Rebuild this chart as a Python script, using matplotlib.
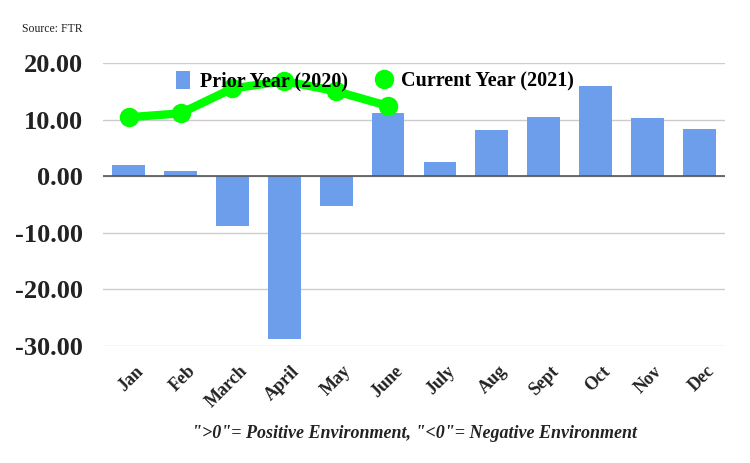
import matplotlib
matplotlib.use("Agg")
import matplotlib.pyplot as plt
import numpy as np

months = ["Jan", "Feb", "March", "April", "May", "June", "July", "Aug", "Sept", "Oct", "Nov", "Dec"]
prior_year = [1.9, 0.9, -8.8, -28.7, -5.2, 11.2, 2.5, 8.1, 10.5, 16.0, 10.3, 8.4]
current_year = [10.4, 11.1, 15.5, 16.8, 15.0, 12.4]

plt.rcParams['font.family'] = ['Liberation Serif', 'DejaVu Serif']

fig = plt.figure(figsize=(7.5, 4.63), dpi=100)
ax = fig.add_axes([0.137, 0.253, 0.83, 0.611])

x = np.arange(len(months))
bars = ax.bar(x, prior_year, width=0.63, color='#6d9eeb', label='Prior Year (2020)', zorder=2)
line, = ax.plot(x[:len(current_year)], current_year, color='#00ff00', lw=6, marker='o',
                markersize=13, label='Current Year (2021)', zorder=3)

ax.set_xlim(-0.5, len(months) - 0.5)
ax.set_ylim(-30, 20)
ax.set_yticks([-30, -20, -10, 0, 10, 20])
ax.set_yticklabels([f"{v:.2f}" for v in [-30, -20, -10, 0, 10, 20]],
                   fontsize=19, fontweight='bold', color='#222222')
ax.set_xticks(x + 0.12)
ax.set_xticklabels(months, rotation=45, ha='right', rotation_mode='anchor',
                   fontsize=13, fontweight='bold', color='#222222')
ax.tick_params(axis='both', length=0)
ax.tick_params(axis='x', pad=12)
ax.tick_params(axis='y', pad=14)

ax.grid(axis='y', color='#cccccc', lw=1, zorder=0)
ax.axhline(0, color='#555555', lw=1.2, zorder=2.5)
for s in ax.spines.values():
    s.set_visible(False)

leg = fig.legend([bars, line], ['Prior Year (2020)', 'Current Year (2021)'],
                 loc='center', bbox_to_anchor=(0.5, 0.825), ncol=2, frameon=False,
                 prop={'size': 14.5, 'weight': 'bold'}, handlelength=0.7, handleheight=1.0,
                 columnspacing=1.4, handletextpad=0.5)
leg.set_zorder(5)
for h in leg.legend_handles:
    try:
        h.set_linewidth(0)
    except Exception:
        pass

fig.text(0.03, 0.93, "Source: FTR", fontsize=8.5, color='#222222')
fig.text(0.553, 0.055, "\">0\"= Positive Environment, \"<0\"= Negative Environment",
         ha='center', fontsize=13, style='italic', fontweight='bold', color='#222222')

fig.savefig("out.png", dpi=100)
